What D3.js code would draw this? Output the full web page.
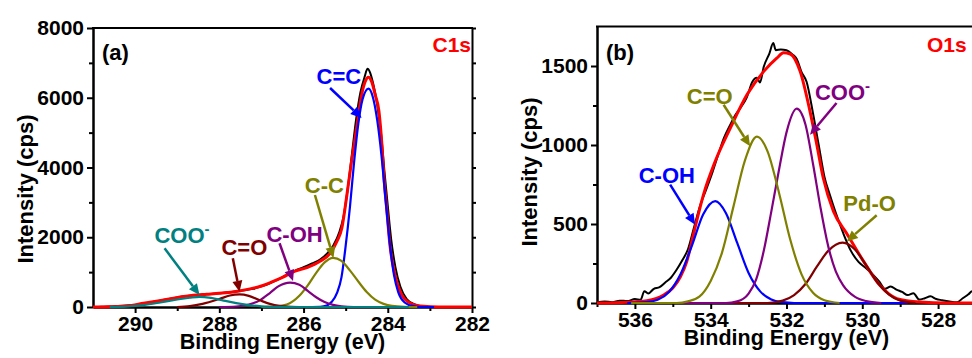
<!DOCTYPE html>
<html>
<head>
<meta charset="utf-8">
<script src="https://cdn.jsdelivr.net/npm/d3@7"></script>
<style>
  body { margin: 0; background: #fff; }
  svg text { font-family: "Liberation Sans", Arial, sans-serif; font-weight: bold; }
</style>
</head>
<body>
<svg id="chart" width="972" height="358"></svg>
<script>
// ---- C1s panel (a): [binding energy eV, intensity cps]
const c1sRaw = [[291,0],[290.8,5],[290.6,12],[290.4,30],[290.2,45],[290.0,55],[289.8,95],[289.6,140],[289.4,190],[289.2,230],[289.0,270],[288.8,310],[288.6,335],[288.4,350],[288.2,370],[288.0,395],[287.8,420],[287.6,450],[287.4,480],[287.2,520],[287.0,590],[286.8,680],[286.6,790],[286.4,920],[286.2,1040],[286.0,1140],[285.8,1250],[285.6,1370],[285.45,1520],[285.3,1750],[285.15,2150],[285.05,2600],[284.95,3400],[284.85,4400],[284.75,5400],[284.65,6150],[284.55,6600],[284.48,6830],[284.42,6720],[284.35,6420],[284.25,5800],[284.15,4850],[284.08,3900],[284.0,2900],[283.92,1950],[283.82,1150],[283.7,580],[283.55,230],[283.35,70],[283.15,15],[282.95,0],[282,0]];
const c1sFit = [[291,0],[290.6,8],[290.2,29],[289.8,105],[289.42,182],[289.02,268],[288.62,335],[288.3,365],[288.0,392],[287.5,468],[287.0,602],[286.75,720],[286.5,850],[286.2,1030],[285.92,1130],[285.61,1310],[285.37,1540],[285.2,1900],[285.09,2265],[284.97,3220],[284.86,4178],[284.74,5133],[284.62,6088],[284.54,6450],[284.46,6586],[284.38,6450],[284.30,6088],[284.21,5612],[284.14,4656],[284.09,3700],[284.02,2744],[283.95,1787],[283.83,927],[283.67,354],[283.47,115],[283.15,19],[282.8,0],[282,0]];
const c1sCC2 = [[285.9,0],[285.6,5],[285.45,40],[285.33,150],[285.2,420],[285.1,850],[285.0,1750],[284.9,2850],[284.8,4150],[284.7,5250],[284.6,5950],[284.46,6260],[284.35,6000],[284.25,5350],[284.15,4350],[284.05,3050],[283.95,1800],[283.85,900],[283.75,420],[283.6,130],[283.4,25],[283.2,0],[282.9,0]];
const c1sCC = [[287.0,0],[286.7,10],[286.4,70],[286.1,320],[285.9,620],[285.7,980],[285.5,1280],[285.3,1410],[285.1,1320],[284.9,1050],[284.7,730],[284.5,430],[284.3,210],[284.1,90],[283.9,30],[283.6,5],[283.3,0]];
const c1sCOH = [[288.0,0],[287.6,15],[287.3,70],[287.04,190],[286.8,400],[286.6,590],[286.32,697],[286.1,640],[285.9,460],[285.7,280],[285.5,140],[285.3,60],[285.1,20],[284.8,0],[284.4,0]];
const c1sCO = [[289.0,0],[288.7,25],[288.4,90],[288.0,230],[287.75,330],[287.52,360],[287.3,320],[287.04,195],[286.8,90],[286.57,30],[286.3,5],[286.0,0]];
const c1sCOO = [[290.6,0],[290.2,15],[289.8,55],[289.4,130],[289.0,215],[288.7,265],[288.47,290],[288.2,260],[287.9,185],[287.6,110],[287.3,55],[287.0,20],[286.6,4],[286.2,0],[283.5,0]];

// ---- O1s panel (b)
const o1sRaw = [[537.0,5],[536.8,10],[536.6,5],[536.4,15],[536.2,12],[536.0,25],[535.85,20],[535.75,75],[535.65,60],[535.5,90],[535.35,100],[535.2,130],[535.05,160],[534.9,210],[534.75,270],[534.6,340],[534.45,470],[534.3,600],[534.1,730],[533.95,830],[533.8,940],[533.65,1045],[533.5,1120],[533.35,1190],[533.2,1240],[533.05,1300],[532.9,1400],[532.78,1425],[532.7,1395],[532.6,1495],[532.45,1580],[532.35,1645],[532.28,1600],[532.15,1605],[532.0,1600],[531.85,1575],[531.73,1545],[531.6,1460],[531.47,1400],[531.3,1200],[531.15,1000],[531.0,800],[530.85,680],[530.7,570],[530.5,440],[530.3,330],[530.1,260],[529.9,220],[529.7,175],[529.55,135],[529.4,90],[529.25,105],[529.1,85],[528.95,70],[528.8,50],[528.65,62],[528.5,22],[528.35,30],[528.2,42],[528.05,25],[527.9,18],[527.7,10],[527.5,5],[527.35,30],[527.2,55],[527.1,75],[527.0,60]];
const o1sFit = [[537,0],[536.5,2],[536.0,8],[535.68,15],[535.24,51],[535.0,95],[534.8,165],[534.63,264],[534.45,440],[534.19,686],[533.88,897],[533.48,1108],[533.04,1319],[532.6,1466],[532.25,1551],[532.08,1584],[531.9,1576],[531.64,1466],[531.38,1213],[531.2,1002],[531.03,791],[530.76,580],[530.41,440],[529.97,265],[529.53,110],[529.09,28],[528.48,6],[527.77,0],[527,0]];
const o1sCOH = [[536.2,0],[535.7,5],[535.4,20],[535.1,70],[534.8,180],[534.5,360],[534.2,560],[533.88,645],[533.6,570],[533.3,380],[533.0,190],[532.7,75],[532.4,22],[532.1,5],[531.8,0],[528.8,0]];
const o1sCO = [[536.1,0],[534.9,0],[534.6,10],[534.3,40],[534.0,140],[533.7,320],[533.4,610],[533.1,900],[532.78,1053],[532.5,960],[532.2,700],[531.9,400],[531.6,180],[531.3,65],[531.0,18],[530.6,0]];
const o1sCOO = [[535.3,0],[533.6,0],[533.3,10],[533.0,60],[532.8,150],[532.6,330],[532.4,580],[532.2,840],[532.0,1080],[531.73,1230],[531.5,1130],[531.3,880],[531.1,600],[530.9,360],[530.7,200],[530.5,110],[530.2,40],[529.9,12],[529.5,0]];
const o1sPdO = [[533.6,0],[532.5,0],[532.1,15],[531.8,50],[531.5,120],[531.2,230],[530.9,330],[530.52,382],[530.2,340],[529.9,240],[529.6,130],[529.3,55],[529.0,15],[528.6,0]];

// tick values
const c1sXTicks = [290, 288, 286, 284, 282];
const c1sXMinor = [289, 287, 285, 283];
const c1sYTicks = [0, 2000, 4000, 6000, 8000];
const c1sYMinor = [1000, 3000, 5000, 7000];
const o1sXTicks = [536, 534, 532, 530, 528];
const o1sXMinor = [537, 535, 533, 531, 529];
const o1sYTicks = [0, 500, 1000, 1500];
const o1sYMinor = [250, 750, 1250];

const svg = d3.select("#chart");

function arrow(g, x1, y1, x2, y2, color) {
  const a = Math.atan2(y2 - y1, x2 - x1), L = 11, W = 5;
  const bx = x2 - L * Math.cos(a), by = y2 - L * Math.sin(a);
  g.append("line").attr("x1", x1).attr("y1", y1).attr("x2", bx).attr("y2", by)
    .attr("stroke", color).attr("stroke-width", 2.5);
  g.append("path")
    .attr("d", `M${x2},${y2}L${bx - W * Math.sin(a)},${by + W * Math.cos(a)}L${bx + W * Math.sin(a)},${by - W * Math.cos(a)}Z`)
    .attr("fill", color);
}

function styleAxis(sel) {
  sel.attr("font-family", "Liberation Sans, Arial, sans-serif").attr("font-size", 21).attr("font-weight", "bold");
  sel.selectAll("path.domain").attr("stroke-width", 2);
  sel.selectAll(".tick line").attr("stroke-width", 2);
}

function drawPanel(p) {
  const x = d3.scaleLinear().domain(p.xDomain).range([p.left, p.right]);
  const y = d3.scaleLinear().domain(p.yDomain).range([p.bottom, p.top]);
  const g = svg.append("g");

  // axes + frame
  g.append("g").attr("transform", `translate(0,${p.bottom})`)
    .call(d3.axisBottom(x).tickValues(p.xMinor).tickFormat("").tickSize(4).tickSizeOuter(0)).call(styleAxis);
  g.append("g").attr("transform", `translate(0,${p.bottom})`)
    .call(d3.axisBottom(x).tickValues(p.xTicks).tickFormat(d3.format("d")).tickSize(6).tickPadding(3).tickSizeOuter(0)).call(styleAxis);
  g.append("g").attr("transform", `translate(${p.left},0)`)
    .call(d3.axisLeft(y).tickValues(p.yMinor).tickFormat("").tickSize(4).tickSizeOuter(0)).call(styleAxis);
  g.append("g").attr("transform", `translate(${p.left},0)`)
    .call(d3.axisLeft(y).tickValues(p.yTicks).tickFormat(d3.format("d")).tickSize(6).tickPadding(3).tickSizeOuter(0)).call(styleAxis);
  g.append("g").attr("transform", `translate(${p.right},0)`)
    .call(d3.axisRight(y).tickValues(p.yTicks.concat(p.yMinor)).tickFormat("").tickSize(4).tickSizeOuter(0)).call(styleAxis);
  g.append("line").attr("x1", p.left - 1).attr("x2", p.right + 1).attr("y1", p.top).attr("y2", p.top)
    .attr("stroke", "#000").attr("stroke-width", 2);

  // curves
  g.append("clipPath").attr("id", p.id + "-clip").append("rect")
    .attr("x", p.left).attr("y", p.top - 5).attr("width", p.right - p.left).attr("height", p.bottom - p.top + 8);
  const plot = g.append("g").attr("clip-path", `url(#${p.id}-clip)`);
  const line = d3.line().x(d => x(d[0])).y(d => y(d[1])).curve(d3.curveMonotoneX);
  plot.append("path").datum(p.raw).attr("d", line).attr("fill", "none").attr("stroke", "#000").attr("stroke-width", 2);
  plot.append("path").datum(p.fit).attr("d", line).attr("fill", "none").attr("stroke", "#ff0000").attr("stroke-width", 3);
  p.comps.forEach(c => {
    plot.append("path").datum(c.data).attr("d", line).attr("fill", "none").attr("stroke", c.color).attr("stroke-width", 2.2);
  });

  // annotations
  p.notes.forEach(n => {
    const t = g.append("text").attr("x", x(n.at[0])).attr("y", y(n.at[1]))
      .attr("font-size", 22).attr("fill", n.color).text(n.text);
    if (n.sup) t.append("tspan").attr("dy", -9).attr("font-size", 15).text(n.sup);
    arrow(g, x(n.from[0]), y(n.from[1]), x(n.to[0]), y(n.to[1]), n.color);
  });

  g.append("text").attr("x", p.left + 9).attr("y", 60).attr("font-size", 22).text(p.tag);
  g.append("text").attr("x", p.elemX).attr("y", 52).attr("font-size", 21).attr("fill", "#ff0000")
    .attr("text-anchor", p.elemAnchor).text(p.elem);

  g.append("text").attr("x", (p.left + p.right) / 2).attr("y", p.bottom + 42)
    .attr("text-anchor", "middle").attr("font-size", 21.5).text("Binding Energy (eV)");
  g.append("text").attr("transform", `translate(${p.left - 60},${p.titleY}) rotate(-90)`)
    .attr("text-anchor", "middle").attr("font-size", 22).text("Intensity (cps)");
}

drawPanel({
  id: "c1s", left: 93, right: 472, top: 28, bottom: 307,
  xDomain: [291, 282], yDomain: [0, 8000],
  xTicks: c1sXTicks, xMinor: c1sXMinor, yTicks: c1sYTicks, yMinor: c1sYMinor,
  raw: c1sRaw, fit: c1sFit,
  comps: [
    { data: c1sCC2, color: "#0000ff" },
    { data: c1sCC, color: "#808000" },
    { data: c1sCOH, color: "#800080" },
    { data: c1sCO, color: "#800000" },
    { data: c1sCOO, color: "#008080" }
  ],
  notes: [
    { text: "C=C", color: "#0000ff", at: [285.69, 6394], from: [285.37, 6280], to: [284.62, 5419] },
    { text: "C-C", color: "#808000", at: [285.97, 3269], from: [285.73, 3212], to: [285.29, 1405] },
    { text: "C-OH", color: "#800080", at: [286.88, 1872], from: [286.57, 1827], to: [286.25, 745] },
    { text: "C=O", color: "#800000", at: [287.95, 1491], from: [287.68, 1396], to: [287.52, 439] },
    { text: "COO", sup: "-", color: "#008080", at: [289.54, 1827], from: [289.30, 1683], to: [288.47, 344] }
  ],
  tag: "(a)", elem: "C1s", elemX: 471, elemAnchor: "end", titleY: 189
});

drawPanel({
  id: "o1s", left: 597, right: 976, top: 26.5, bottom: 303,
  xDomain: [537, 527], yDomain: [0, 1750],
  xTicks: o1sXTicks, xMinor: o1sXMinor, yTicks: o1sYTicks, yMinor: o1sYMinor,
  raw: o1sRaw, fit: o1sFit,
  comps: [
    { data: o1sCOH, color: "#0000ff" },
    { data: o1sPdO, color: "#800000" },
    { data: o1sCOO, color: "#800080" },
    { data: o1sCO, color: "#808000" }
  ],
  notes: [
    { text: "C-OH", color: "#0000ff", at: [535.90, 759], from: [535.07, 749], to: [534.41, 496] },
    { text: "C=O", color: "#808000", at: [534.63, 1259], from: [533.66, 1255], to: [532.96, 992] },
    { text: "COO", sup: "-", color: "#800080", at: [531.25, 1287], from: [530.68, 1266], to: [531.38, 1065] },
    { text: "Pd-O", color: "#808000", at: [530.50, 580], from: [529.62, 555], to: [530.41, 390] }
  ],
  tag: "(b)", elem: "O1s", elemX: 927, elemAnchor: "start", titleY: 172
});
</script>
</body>
</html>
